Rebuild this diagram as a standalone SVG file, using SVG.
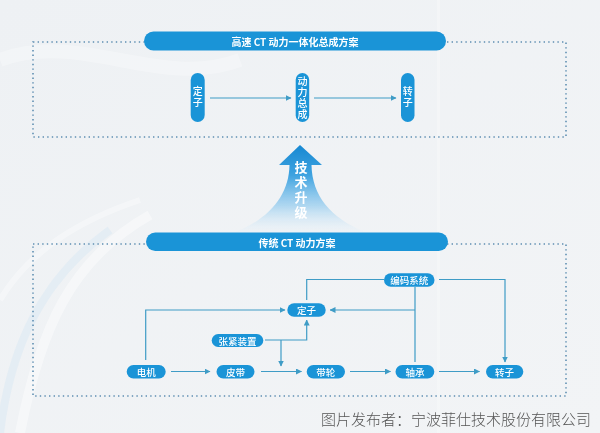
<svg xmlns="http://www.w3.org/2000/svg" width="600" height="433" viewBox="0 0 600 433">
<defs>
<style>
.pill{fill:#1a94d7}
.t{font-family:"Noto Sans CJK SC","Noto Sans",sans-serif;fill:#fff;text-anchor:middle;dominant-baseline:central}
.tt{font-size:10px;font-weight:bold}
.tn{font-size:9.5px;font-weight:500}
.tv{font-family:"Noto Sans CJK SC","Noto Sans",sans-serif;fill:#fff;text-anchor:middle;font-size:10px;font-weight:500;writing-mode:vertical-rl;letter-spacing:1px}
.dot{fill:none;stroke:#5f8fb2;stroke-width:1.6;stroke-dasharray:1.4 3.2}
.ln{fill:none;stroke:#3f9cc6;stroke-width:1.2}
</style>
<marker id="ah" viewBox="0 0 6 6" refX="5.5" refY="3" markerWidth="6" markerHeight="6" markerUnits="userSpaceOnUse" orient="auto">
<path d="M0,0 L6,3 L0,6 Z" fill="#3f9cc6"/>
</marker>
<linearGradient id="upg" x1="0" y1="0" x2="0" y2="1">
<stop offset="0" stop-color="#1688d2"/>
<stop offset="0.35" stop-color="#3fa3e0"/>
<stop offset="0.7" stop-color="#9fd0ef" stop-opacity="0.8"/>
<stop offset="1" stop-color="#e6f2fa" stop-opacity="0.2"/>
</linearGradient>
<linearGradient id="bg" x1="0" y1="0" x2="1" y2="1">
<stop offset="0" stop-color="#eef1f4"/>
<stop offset="1" stop-color="#f2f4f6"/>
</linearGradient>
</defs>
<rect width="600" height="433" fill="url(#bg)"/>
<g fill="none" stroke="#ffffff" opacity="0.7">
<path d="M0,60 C80,30 160,90 240,60" stroke-width="14" opacity="0.4"/>
<path d="M20,433 C40,330 70,260 150,215" stroke-width="10" opacity="0.6"/>
<path d="M0,300 C30,250 80,220 140,200" stroke-width="6" opacity="0.5"/>
</g>
<path d="M0,433 C10,350 40,280 110,230" fill="none" stroke="#dce9f4" stroke-width="8" opacity="0.6"/>
<rect x="437" y="0" width="3" height="433" fill="#ffffff" opacity="0.25"/>

<g id="top-frame">
<rect class="dot" x="33" y="42" width="533" height="95"/>
</g>
<g id="bottom-frame">
<rect class="dot" x="33" y="244" width="533" height="152"/>
</g>

<g id="upgrade-arrow">
<path d="M300,145 L322,165 L311.5,165 C312,195 330,218 365,232 L236,232 C270,218 289,195 289.5,165 L279,165 Z" fill="url(#upg)"/>
<text class="tv" x="301" y="191" font-size="13" font-weight="bold" style="font-size:13px;font-weight:bold;letter-spacing:2px">技术升级</text>
</g>

<g id="title-top">
<rect class="pill" x="144" y="31.5" width="302" height="19" rx="9.5"/>
<text class="t tt" x="295" y="41">高速 CT 动力一体化总成方案</text>
</g>
<g id="title-bottom">
<rect class="pill" x="146" y="232.5" width="302" height="18.5" rx="9.25"/>
<text class="t tt" x="297" y="242">传统 CT 动力方案</text>
</g>

<g id="connectors">
<line class="ln" x1="210" y1="98" x2="291" y2="98" marker-end="url(#ah)"/>
<line class="ln" x1="314" y1="98" x2="396" y2="98" marker-end="url(#ah)"/>
<path class="ln" d="M145.7,360 V310 H285" marker-end="url(#ah)"/>
<path class="ln" d="M384,279.5 H306.7 V300"/>
<path class="ln" d="M439,279.5 H505 V362" marker-end="url(#ah)"/>
<path class="ln" d="M415,287 V362"/>
<path class="ln" d="M415,310 H330" marker-end="url(#ah)"/>
<path class="ln" d="M265,340 H306.7 V320" marker-end="url(#ah)"/>
<path class="ln" d="M281,340 V366" marker-end="url(#ah)"/>
<line class="ln" x1="171" y1="371.5" x2="210" y2="371.5" marker-end="url(#ah)"/>
<line class="ln" x1="261" y1="371.5" x2="301.5" y2="371.5" marker-end="url(#ah)"/>
<line class="ln" x1="350" y1="371.5" x2="390.5" y2="371.5" marker-end="url(#ah)"/>
<line class="ln" x1="439" y1="371.5" x2="479.5" y2="371.5" marker-end="url(#ah)"/>
</g>

<g id="n-stator-top">
<rect class="pill" x="190.7" y="73" width="14" height="49" rx="7"/>
<text class="tv" x="197.7" y="97.5">定子</text>
</g>
<g id="n-power-assembly">
<rect class="pill" x="295.7" y="73" width="13.5" height="49" rx="6.75"/>
<text class="tv" x="302.5" y="98">动力总成</text>
</g>
<g id="n-rotor-top">
<rect class="pill" x="401" y="73" width="13.5" height="49" rx="6.75"/>
<text class="tv" x="407.7" y="97.5">转子</text>
</g>

<g id="n-encoder">
<rect class="pill" x="384" y="273.3" width="50.5" height="13.5" rx="6.75"/>
<text class="t tn" x="409.3" y="280">编码系统</text>
</g>
<g id="n-stator">
<rect class="pill" x="287.3" y="303.3" width="38.4" height="13.5" rx="6.75"/>
<text class="t tn" x="306.5" y="310">定子</text>
</g>
<g id="n-tensioner">
<rect class="pill" x="211.7" y="334" width="51.6" height="13" rx="6.5"/>
<text class="t tn" x="237.5" y="340.5">张紧装置</text>
</g>
<g id="n-motor">
<rect class="pill" x="126.7" y="365" width="39" height="13.5" rx="6.75"/>
<text class="t tn" x="146.2" y="371.7">电机</text>
</g>
<g id="n-belt">
<rect class="pill" x="216.5" y="365" width="38" height="13.5" rx="6.75"/>
<text class="t tn" x="235.5" y="371.7">皮带</text>
</g>
<g id="n-pulley">
<rect class="pill" x="306.7" y="365" width="38.3" height="13.5" rx="6.75"/>
<text class="t tn" x="325.8" y="371.7">带轮</text>
</g>
<g id="n-bearing">
<rect class="pill" x="395.5" y="365" width="38.8" height="13.5" rx="6.75"/>
<text class="t tn" x="414.9" y="371.7">轴承</text>
</g>
<g id="n-rotor">
<rect class="pill" x="486" y="365" width="37.3" height="13.5" rx="6.75"/>
<text class="t tn" x="504.6" y="371.7">转子</text>
</g>

<text x="591" y="425" font-family="'Noto Sans CJK SC','Noto Sans',sans-serif" font-size="15" font-weight="300" fill="#555" text-anchor="end">图片发布者：宁波菲仕技术股份有限公司</text>
</svg>
